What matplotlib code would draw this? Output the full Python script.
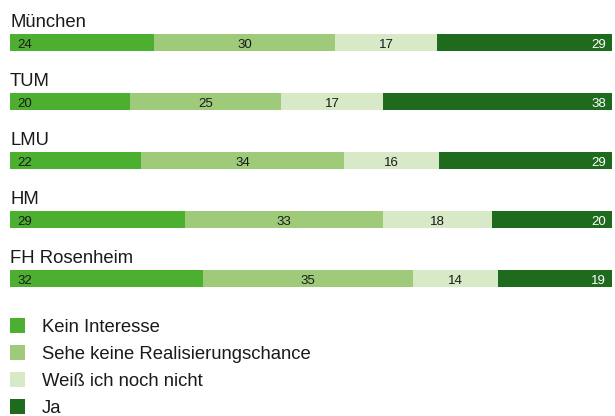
import matplotlib
matplotlib.use("Agg")
import matplotlib.pyplot as plt
from matplotlib.patches import Rectangle

plt.rcParams['font.family'] = ['Liberation Sans', 'DejaVu Sans']

groups = ['München', 'TUM', 'LMU', 'HM', 'FH Rosenheim']
categories = ['Kein Interesse', 'Sehe keine Realisierungschance',
              'Weiß ich noch nicht', 'Ja']
kein = [24, 20, 22, 29, 32]
sehe = [30, 25, 34, 33, 35]
weiss = [17, 17, 16, 18, 14]
ja = [29, 38, 29, 20, 19]
colors = ['#4daf30', '#9fca79', '#d7e9c7', '#1f6b1e']
text_colors = ['#1a1a1a', '#1a1a1a', '#1a1a1a', 'white']

W, H = 615, 416
fig = plt.figure(figsize=(W / 100, H / 100), dpi=100)

# bars: x in percent of row total, y in pixels
x0, x1 = 10, 612
ax = fig.add_axes([x0 / W, 0, (x1 - x0) / W, 1])
ax.set_xlim(0, 100)
ax.set_ylim(H, 0)
ax.axis('off')
px = 100 / (x1 - x0)  # one pixel in data units

series = [kein, sehe, weiss, ja]
step = 59
bar_h = 17
for i, g in enumerate(groups):
    yc = 42.5 + i * step
    ax.text(0, yc - 15.5, g, fontsize=13.3, ha='left', va='baseline',
            color='#1a1a1a', clip_on=False)
    total = sum(s[i] for s in series)
    left = 0
    for k, vals in enumerate(series):
        v = vals[i]
        w = v / total * 100
        ax.barh(yc, w, left=left, height=bar_h, color=colors[k], linewidth=0)
        if k == 0:
            tx, ha = left + 7 * px, 'left'
        elif k == len(series) - 1:
            tx, ha = left + w - 6 * px, 'right'
        else:
            tx, ha = left + w / 2, 'center'
        ax.text(tx, yc + 5.3, str(v), fontsize=9.5, ha=ha, va='baseline',
                color=text_colors[k])
        left += w

# legend in pixel coordinates
lax = fig.add_axes([0, 0, 1, 1])
lax.set_xlim(0, W)
lax.set_ylim(H, 0)
lax.axis('off')
for k, c in enumerate(categories):
    yc = 325.5 + k * 27
    lax.add_patch(Rectangle((10, yc - 7.5), 15, 15, color=colors[k], linewidth=0))
    lax.text(42, yc + 6.5, c, fontsize=13.35, ha='left', va='baseline',
             color='#1a1a1a')

fig.savefig('out.png', dpi=100)
